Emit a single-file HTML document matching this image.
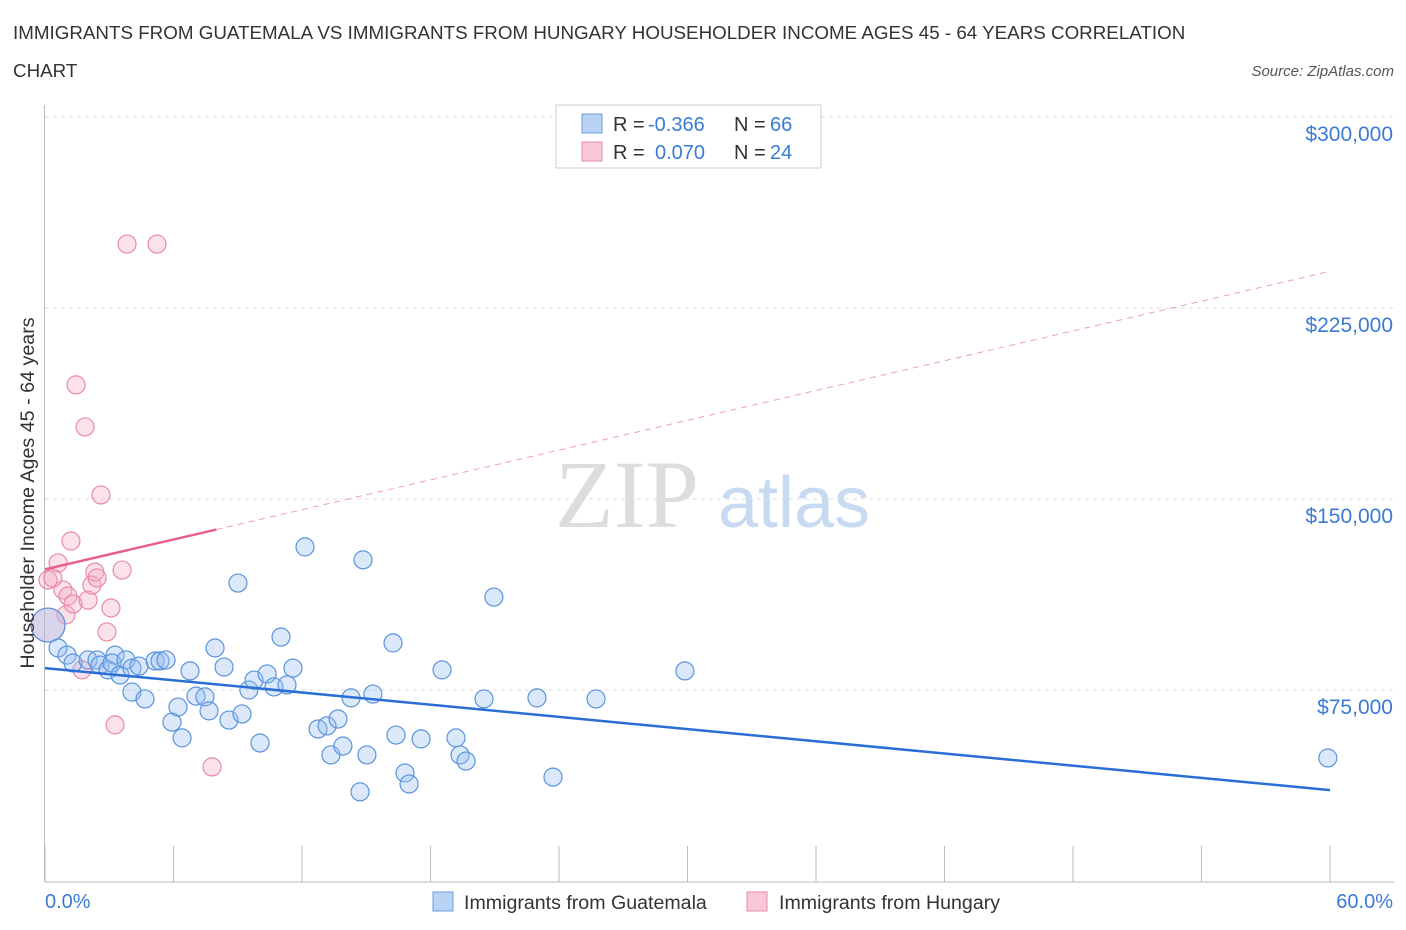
<!DOCTYPE html>
<html><head><meta charset="utf-8">
<style>
body{margin:0;background:#fff;font-family:"Liberation Sans",sans-serif;}
#wrap{position:relative;width:1406px;height:930px;overflow:hidden;}
</style></head>
<body>
<div id="wrap">
<svg id="svg" width="1406" height="930" xmlns="http://www.w3.org/2000/svg">
<text x="13" y="39" font-size="18.8" fill="#333">IMMIGRANTS FROM GUATEMALA VS IMMIGRANTS FROM HUNGARY HOUSEHOLDER INCOME AGES 45 - 64 YEARS CORRELATION</text>
<text x="13" y="77" font-size="18.8" fill="#333">CHART</text>
<text x="1394" y="76" font-size="15" fill="#555" font-style="italic" text-anchor="end">Source: ZipAtlas.com</text>
<text x="555" y="527" font-size="96" fill="#ddd" font-family="Liberation Serif,serif">ZIP</text>
<text x="718" y="527" font-size="72" fill="#c8daf2">atlas</text>
<g id="grid"></g>
<g id="axes"></g>
<g id="marks"></g>
<text transform="translate(34,493) rotate(-90)" font-size="19.7" fill="#333" text-anchor="middle">Householder Income Ages 45 - 64 years</text>
<text x="45" y="908" font-size="20" fill="#3a7bd5">0.0%</text>
<text x="1393" y="908" font-size="20" fill="#3a7bd5" text-anchor="end">60.0%</text>
<g>
<rect x="556" y="105" width="265" height="63" fill="#fff" stroke="#ccc"/>
<rect x="582" y="114" width="20" height="19" fill="#b9d3f5" stroke="#6b9de0"/>
<rect x="582" y="142" width="20" height="19" fill="#f9c8d6" stroke="#e88aa6"/>
<text y="131" font-size="20" fill="#333"><tspan x="613">R =</tspan><tspan x="648" fill="#3a7bd5">-0.366</tspan><tspan x="734">N =</tspan><tspan x="770" fill="#3a7bd5">66</tspan></text>
<text y="159" font-size="20" fill="#333"><tspan x="613">R =</tspan><tspan x="655" fill="#3a7bd5">0.070</tspan><tspan x="734">N =</tspan><tspan x="770" fill="#3a7bd5">24</tspan></text>
</g>
<g>
<rect x="433" y="892" width="20" height="19" fill="#b9d3f5" stroke="#6b9de0"/>
<text x="464" y="909" font-size="19.6" fill="#333">Immigrants from Guatemala</text>
<rect x="747" y="892" width="20" height="19" fill="#f9c8d6" stroke="#e88aa6"/>
<text x="779" y="909" font-size="19.6" fill="#333">Immigrants from Hungary</text>
</g>
</svg>
</div>
<script>
const yTicks=[75000,150000,225000,300000];
const yTickLabels=["$75,000","$150,000","$225,000","$300,000"];
const xTicks=[0,6,12,18,24,30,36,42,48,54,60];
const blueX=[0.14,0.61,1.03,1.31,2.01,2.43,2.57,2.94,3.27,3.13,3.50,3.78,4.06,4.39,4.06,4.67,5.14,5.37,5.65,5.93,6.21,6.40,6.77,7.05,7.47,7.66,7.94,8.36,8.59,9.01,9.20,9.52,9.76,10.04,10.37,10.69,11.02,11.30,11.58,12.14,12.75,13.17,13.35,13.68,13.91,14.29,14.71,14.85,15.03,15.31,16.25,16.39,16.81,17.00,17.56,18.54,19.19,19.38,19.66,20.50,20.96,22.97,23.72,25.73,29.88,59.90];
const blueY=[100.5,91.5,88.7,85.6,86.8,86.8,84.8,82.9,88.7,85.6,80.9,86.8,83.6,84.4,74.2,71.5,86.4,86.4,86.8,62.4,68.3,56.2,82.5,72.6,72.3,66.8,91.5,84.0,63.2,117.0,65.6,75.0,78.9,54.2,81.3,76.2,95.8,77.0,83.6,131.2,59.7,60.9,49.5,63.6,53.0,71.9,35.0,126.1,49.5,73.4,93.5,57.3,42.4,38.1,55.8,82.9,56.2,49.5,47.1,71.5,111.5,71.9,40.8,71.5,82.5,48.3].map(v=>v*1000);
const pinkX=[0.14,0.37,0.61,0.84,0.98,1.07,1.21,1.31,1.45,1.73,1.87,2.01,2.19,2.33,2.43,2.61,2.89,3.08,3.27,3.60,3.83,5.23,7.80,0.14];
const pinkY=[118.2,119.0,124.9,114.3,104.5,111.9,133.5,108.8,194.8,82.9,178.3,110.3,116.2,121.3,119.0,151.6,97.8,107.2,61.3,122.1,250.1,250.1,44.8,100.5].map(v=>v*1000);
const blueTrend=[83600,35700];
const pinkTrend=[122400,239400];
const pinkSolidEnd=8;

const NS="http://www.w3.org/2000/svg";
const xs=p=>45+p/60*1285;
const ys=v=>881-v/75000*191;
function mk(tag,attrs,parent){const e=document.createElementNS(NS,tag);for(const k in attrs)e.setAttribute(k,attrs[k]);document.getElementById(parent).appendChild(e);return e;}
yTicks.forEach((t,i)=>{
  const g=mk('line',{x1:45,x2:1394,y1:ys(t),y2:ys(t),stroke:'#ddd','stroke-dasharray':'4,4'},'grid');
  
  
  const l=mk('text',{x:1393,y:ys(t)+24,'font-size':21,fill:'#3a7bd5','text-anchor':'end'},'axes');
  l.textContent=yTickLabels[i];
  
  
});
const ax=mk('line',{x1:45,x2:1394,y1:882,y2:882,stroke:'#bbb'},'axes');


const ay=mk('line',{x1:44.5,x2:44.5,y1:105,y2:882,stroke:'#bbb'},'axes');


xTicks.forEach(t=>{
  const k=mk('line',{x1:xs(t),x2:xs(t),y1:846,y2:882,stroke:'#bbb'},'axes');
  
  
});
function dot(x,y,r,fill,stroke,name){
  const c=mk('circle',{cx:xs(x),cy:ys(y),r:r,fill:fill,stroke:stroke,'stroke-width':1.2},'marks');
  
  
}
pinkX.forEach((x,i)=>dot(x,pinkY[i],i===pinkX.length-1?17:9,'rgba(244,170,192,0.35)','#e88aa6','hungary-point'));
blueX.forEach((x,i)=>dot(x,blueY[i],i===0?17:9,'rgba(150,190,240,0.35)','#5b93dd','guatemala-point'));
const bt=mk('line',{x1:xs(0),y1:ys(blueTrend[0]),x2:xs(60),y2:ys(blueTrend[1]),stroke:'#2a6fd6','stroke-width':2.5},'marks');


const pv=x=>pinkTrend[0]+(pinkTrend[1]-pinkTrend[0])*x/60;
const pd=mk('line',{x1:xs(pinkSolidEnd),y1:ys(pv(pinkSolidEnd)),x2:xs(60),y2:ys(pinkTrend[1]),stroke:'#eaa0b6','stroke-width':1,'stroke-dasharray':'6,5'},'marks');


const ps=mk('line',{x1:xs(0),y1:ys(pinkTrend[0]),x2:xs(pinkSolidEnd),y2:ys(pv(pinkSolidEnd)),stroke:'#e8608a','stroke-width':2.5},'marks');


</script>
</body></html>
